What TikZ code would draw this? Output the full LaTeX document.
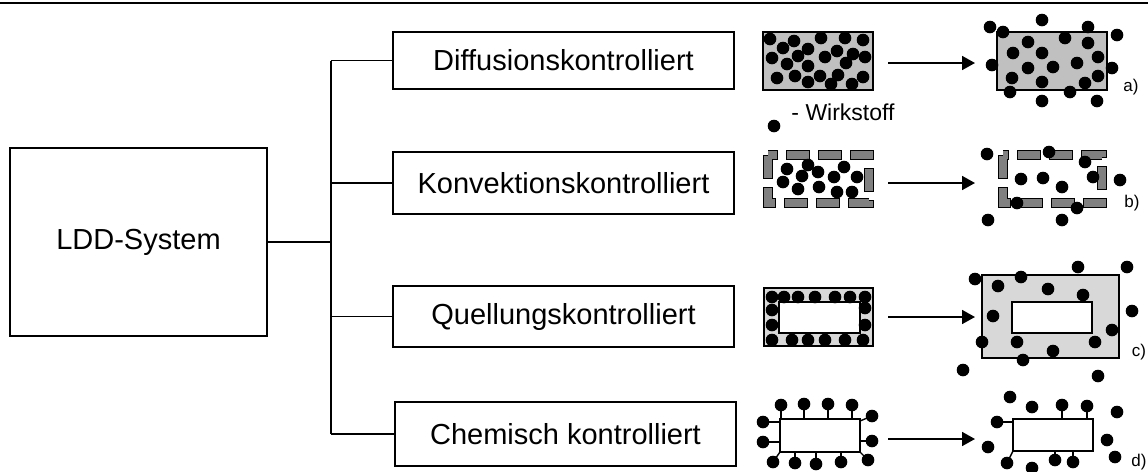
\documentclass[tikz,border=0pt]{standalone}
\usepackage{fontspec}
\setmainfont{Liberation Sans}
\usetikzlibrary{arrows.meta}
\definecolor{matrixgray}{RGB}{192,192,192}
\definecolor{swellgray}{RGB}{216,216,216}
\definecolor{shellgray}{RGB}{128,128,128}

\begin{document}
\begin{tikzpicture}[x=0.5pt,y=-0.5pt,line width=0.8pt,
  box/.style={draw,line width=0.8pt,minimum width=170.5pt,font=\fontsize{14.5}{17}\selectfont},
  flow/.style={-{Triangle[length=6.5pt,width=7pt]},line width=0.9pt},
  stalk/.style={line width=0.7pt},
  tag/.style={font=\fontsize{8.5}{10}\selectfont}]
  \useasboundingbox (0,0) rectangle (1148,472);
  \draw[line width=1pt] (0,3) -- (1148,3);

  \node[box,minimum width=128.5pt,minimum height=94pt] (ldd) at (138.5,242) {LDD-System};
  \foreach \j/\x/\y/\h/\t in {1/563.5/60.5/28.5/Diffusionskontrolliert,2/563.5/183/31/Konvektionskontrolliert,
      3/563.5/316.5/30.5/Quellungskontrolliert,4/565.5/434/32/Chemisch kontrolliert}
    \node[box,minimum height=\h pt] (k\j) at (\x,\y) {\t};
  \coordinate (trunk) at (331,0);
  \draw (ldd.east) -- (ldd.east -| trunk);
  \draw (k1.west -| trunk) -- (k4.west -| trunk);
  \foreach \j in {1,...,4} \draw (k\j.west -| trunk) -- (k\j.west);

  \foreach \j/\y in {1/63,2/183,3/317,4/439} {
    \coordinate (s\j) at (888,\y);
    \coordinate (e\j) at (975,\y);
    \draw[flow] (s\j) -- (e\j);
  }
  \node[tag] (ta) at (1131,87) {a)};
  \node[tag] (tb) at (1132,203) {b)};
  \node[tag] (tc) at (1139,352) {c)};
  \node[tag] (td) at (1139,462) {d)};

  % a) Matrix
  \filldraw[fill=matrixgray,line width=0.85pt] (763,32) rectangle (873,90);
  \foreach \x/\y in {770/39,794/41,821/38,845/38,863/40,783/48,808/49,837/51,853/54,772/58,798/56,825/57,865/57,
      787/64,808/66,846/63,777/78,795/76,820/76,838/75,863/77,808/82,831/84,852/84}
    \fill (\x,\y) circle (3.15pt);
  \filldraw[fill=matrixgray,line width=0.85pt] (997,32) rectangle (1107,90);
  \foreach \x/\y in {990/27,1003/32,1042/20,1088/27,1117/35,1028/42,1065/38,1088/43,1013/53,1042/53,1098/57,992/65,
      1028/68,1053/67,1077/63,1112/68,1012/78,1042/82,1085/83,1098/76,1010/92,1070/92,1042/101,1097/101}
    \fill (\x,\y) circle (3.15pt);
  \fill (774,126) circle (3.15pt);
  \node[anchor=base west,font=\fontsize{11.5}{14}\selectfont] (wirk) at (784,120) {- Wirkstoff};

  % b) Membran
  \foreach \a/\w in {768/101,1003/99} {
    \draw[line width=5pt,dash pattern=on 12pt off 4pt] (\a,155) rectangle (\a+\w,203);
    \draw[shellgray,line width=3.8pt,dash pattern=on 10.8pt off 5.2pt,dash phase=15.4pt] (\a,155) rectangle (\a+\w,203);
  }
  \foreach \x/\y in {787/169,808/165,844/167,802/176,818/172,834/177,857/177,783/182,798/189,819/187,837/192,852/192,
      987/154,1049/152,1085/162,1021/179,1043/178,1062/187,1093/177,1120/180,1017/203,1077/208,988/220,1062/220}
    \fill (\x,\y) circle (3.15pt);

  % c) Quellung
  \filldraw[fill=swellgray,line width=0.85pt] (764,288) rectangle (873,346);
  \filldraw[fill=white,line width=0.85pt] (779,302) rectangle (860,333);
  \foreach \x/\y in {772/297,784/297,798/297,815/297,835/297,850/297,865/297,772/340,792/340,808/340,825/340,845/340,
      863/340,772/310,772/325,865/308,865/325}
    \fill (\x,\y) circle (3.15pt);
  \filldraw[fill=swellgray,line width=0.85pt] (982,275) rectangle (1119,358);
  \filldraw[fill=white,line width=0.85pt] (1012,302) rectangle (1092,333);
  \foreach \x/\y in {975/279,998/286,1021/277,1048/289,1078/267,1083/295,1127/267,1132/311,993/316,1112/330,
      982/342,1017/342,1053/351,1095/342,1023/360,963/370,1098/376}
    \fill (\x,\y) circle (3.15pt);

  % d) chemisch gebunden
  \draw[fill=white,line width=0.85pt] (780,419) rectangle (860,452);
  \foreach \x/\y/\u/\v in {781/405/781/419,804/404/804/419,828/404/828/419,852/405/852/419,763/422/780/422,
      763/442/780/442,872/416/860/421,872/441/860/441,773/462/780/452,795/463/795/452,816/464/816/452,
      841/462/841/452,868/460/860/452} {
    \draw[stalk] (\x,\y) -- (\u,\v);
    \fill (\x,\y) circle (3.15pt);
  }
  \draw[fill=white,line width=0.85pt] (1013,419) rectangle (1093,451);
  \foreach \x/\y/\u/\v in {1062/405/1062/419,1087/406/1087/419,997/422/1013/422,1007/463/1013/451,
      1055/460/1055/451,1073/462/1073/451} {
    \draw[stalk] (\x,\y) -- (\u,\v);
    \fill (\x,\y) circle (3.15pt);
  }
  \foreach \x/\y in {1010/397,1032/407,1117/412,988/447,1107/440,1115/457,1032/468}
    \fill (\x,\y) circle (3.15pt);
\end{tikzpicture}
\end{document}
